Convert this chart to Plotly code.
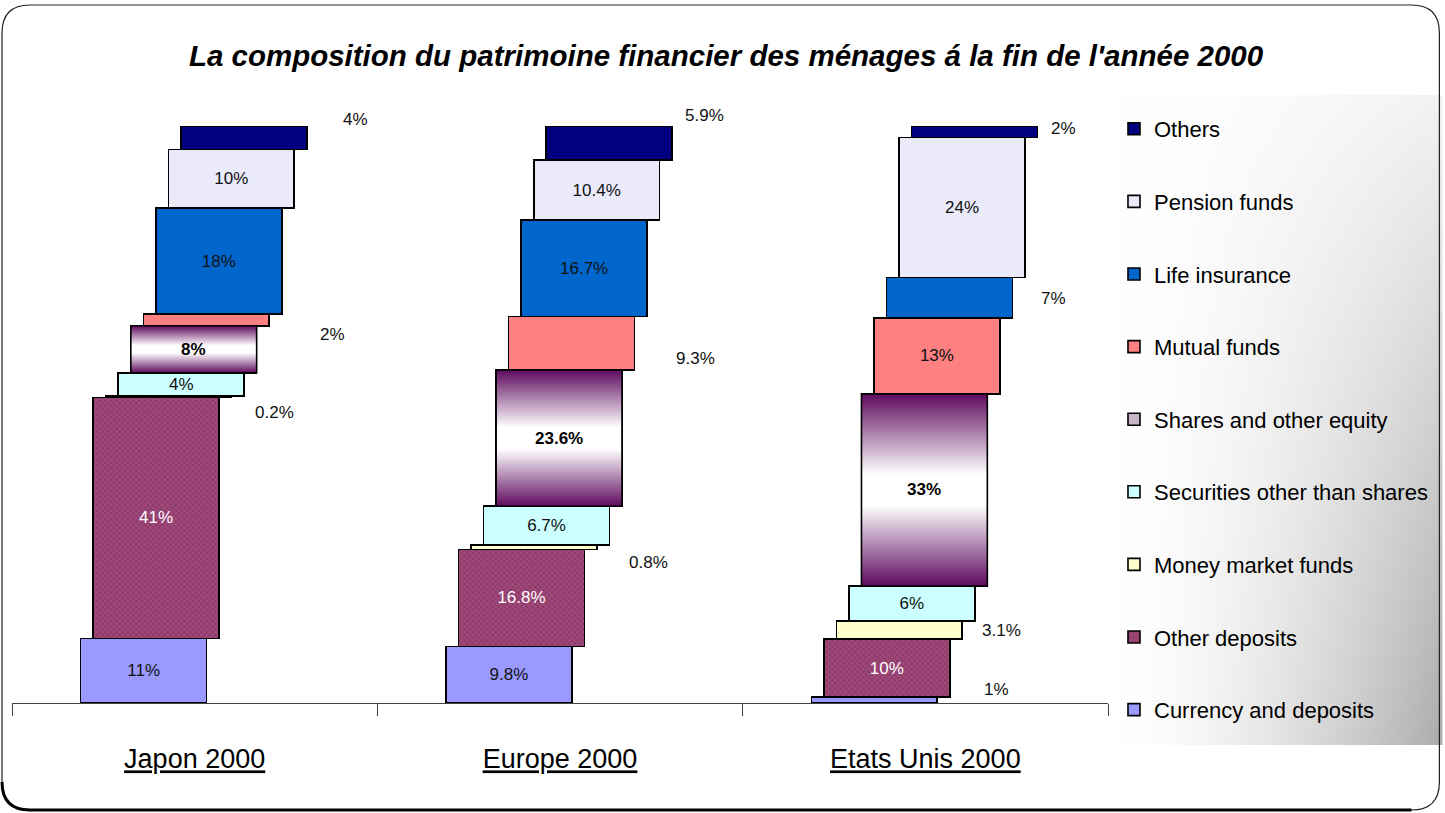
import base64
import struct
import zlib

import numpy as np
import plotly.graph_objects as go

# ---------------- data ----------------
categories = ["Japon 2000", "Europe 2000", "Etats Unis 2000"]
series = ["Currency and deposits", "Other deposits", "Money market funds",
          "Securities other than shares", "Shares and other equity", "Mutual funds",
          "Life insurance", "Pension funds", "Others"]
japon = [11, 41, 0.2, 4, 8, 2, 18, 10, 4]
europe = [9.8, 16.8, 0.8, 6.7, 23.6, 9.3, 16.7, 10.4, 5.9]
etats_unis = [1, 10, 3.1, 6, 33, 13, 7, 24, 2]
title_text = "La composition du patrimoine financier des ménages á la fin de l'année 2000"

# ---------------- styles ----------------
FONT = "Liberation Sans, Arial, sans-serif"
LABEL_SIZE = 17
colors = ["#9999FF", "#A0487A", "#FFFFCC", "#CCFFFF", "#C8B4C8",
          "#FF8080", "#0066CC", "#EAEAFA", "#000080"]
text_colors = ["#111111", "#FFFFFF", "#111111", "#111111", "#111111",
               "#111111", "#111111", "#111111", "#111111"]
BAR_W = 0.3445       # bar width (category units)
OFF0 = -0.312        # offset of the lowest segment
STEP = 0.0343        # horizontal shift per stacked level
SHARES = 4
# labels drawn beside the bars: (country, series) -> (dx px from right edge, dy px down)
outside = {
    (0, 2): (43, 16), (0, 5): (63, 15), (0, 8): (49, -18),
    (1, 2): (52, 15), (1, 5): (61, 15), (1, 8): (32, -28),
    (2, 0): (59, -11), (2, 2): (39, 1), (2, 6): (41, 1), (2, 8): (26, -3),
}

W_PX, H_PX = 1445, 813
M_L, M_R, M_T, M_B = 12, 335, 126, 110
PW = W_PX - M_L - M_R
PH = H_PX - M_T - M_B


def px_x(p):
    return (p - M_L) / PW


def px_y(p):
    return (H_PX - M_B - p) / PH


vals = np.array([japon, europe, etats_unis], dtype=float)
norm = vals / vals.sum(axis=1, keepdims=True) * 100.0
base = np.cumsum(norm, axis=1) - norm

fig = go.Figure()

for i, name in enumerate(series):
    texts = []
    for c in range(len(categories)):
        if (c, i) in outside or i == SHARES:
            texts.append("")
        else:
            texts.append(f"{vals[c, i]:g}%")
    marker = dict(color=colors[i], line=dict(color="#000000", width=1.6))
    if i == 1:
        marker["pattern"] = dict(shape="x", size=4, solidity=0.3,
                                 fgcolor="#5a1c3e", bgcolor=colors[i])
    fig.add_trace(go.Bar(
        x=categories, y=norm[:, i], name=name,
        offset=OFF0 + i * STEP, width=BAR_W,
        marker=marker,
        text=texts, textposition="inside", insidetextanchor="middle",
        textangle=0, constraintext="none",
        textfont=dict(family=FONT, size=LABEL_SIZE, color=text_colors[i]),
        legendgroup=name, legendrank=len(series) - i, hoverinfo="name+y",
    ))

# gradient fill for "Shares and other equity"
for c in range(len(categories)):
    x0 = c + OFF0 + SHARES * STEP
    x1 = x0 + BAR_W
    y0 = base[c, SHARES]
    y1 = y0 + norm[c, SHARES]
    fig.add_trace(go.Scatter(
        x=[x0, x1, x1, x0, x0], y=[y0, y0, y1, y1, y0],
        xaxis="x2", yaxis="y", mode="lines", fill="toself",
        fillgradient=dict(type="vertical",
                          colorscale=[[0, "#5e0a5e"], [0.42, "#ffffff"],
                                      [0.58, "#ffffff"], [1, "#5e0a5e"]]),
        line=dict(color="#000000", width=1.6),
        showlegend=False, hoverinfo="skip",
    ))

annotations = []
for c in range(len(categories)):
    annotations.append(dict(
        x=c + OFF0 + SHARES * STEP + BAR_W / 2, xref="x2",
        y=base[c, SHARES] + norm[c, SHARES] / 2, yref="y",
        text=f"<b>{vals[c, SHARES]:g}%</b>", showarrow=False,
        font=dict(family=FONT, size=LABEL_SIZE, color="#000000")))
for (c, i), (dx, dy) in outside.items():
    annotations.append(dict(
        x=c + OFF0 + i * STEP + BAR_W, xref="x2",
        y=base[c, i] + norm[c, i] / 2, yref="y",
        xshift=dx, yshift=-dy, text=f"{vals[c, i]:g}%", showarrow=False,
        font=dict(family=FONT, size=LABEL_SIZE, color="#111111")))


# ---------- legend background gradient (inline PNG) ----------
def gradient_png(w, h):
    rows = bytearray()
    for yy in range(h):
        v = yy / (h - 1)
        rows.append(0)
        for xx in range(w):
            u = xx / (w - 1)
            d = 82 * (u ** 1.6) * (0.15 + 0.85 * v)
            g = int(max(0, min(255, 255 - d)))
            rows += bytes((g, g, g))

    def chunk(tag, data):
        out = struct.pack(">I", len(data)) + tag + data
        return out + struct.pack(">I", zlib.crc32(tag + data) & 0xFFFFFFFF)
    raw = b"\x89PNG\r\n\x1a\n"
    raw += chunk(b"IHDR", struct.pack(">IIBBBBB", w, h, 8, 2, 0, 0, 0))
    raw += chunk(b"IDAT", zlib.compress(bytes(rows), 9))
    raw += chunk(b"IEND", b"")
    return "data:image/png;base64," + base64.b64encode(raw).decode()


images = [dict(source=gradient_png(110, 216), xref="paper", yref="paper",
               x=px_x(1115), y=px_y(95), sizex=330 / PW, sizey=650 / PH,
               xanchor="left", yanchor="top", sizing="stretch", layer="below")]

# ---------- rounded outer frame ----------
r = 28
L, T, R, B = px_x(2), px_y(5), px_x(1442), px_y(810)
rx, ry = r / PW, r / PH
frame = (f"M{L + rx},{T} L{R - rx},{T} Q{R},{T} {R},{T - ry} L{R},{B + ry} "
         f"Q{R},{B} {R - rx},{B} L{L + rx},{B} Q{L},{B} {L},{B + ry} "
         f"L{L},{T - ry} Q{L},{T} {L + rx},{T} Z")
bottom = f"M{L},{B + ry} Q{L},{B} {L + rx},{B} L{R - rx},{B}"
shapes = [
    dict(type="path", path=frame, xref="paper", yref="paper",
         line=dict(color="#222222", width=1.2), layer="above"),
    dict(type="path", path=bottom, xref="paper", yref="paper",
         line=dict(color="#000000", width=3), layer="above"),
]

fig.update_layout(
    width=W_PX, height=H_PX,
    margin=dict(l=M_L, r=M_R, t=M_T, b=M_B),
    paper_bgcolor="#FFFFFF", plot_bgcolor="rgba(0,0,0,0)",
    barmode="stack",
    title=dict(text=f"<b><i>{title_text}</i></b>", xref="container", x=726 / W_PX,
               xanchor="center", yref="container", y=1 - 56 / H_PX, yanchor="middle",
               font=dict(family=FONT, size=29.5, color="#000000")),
    xaxis=dict(type="category", range=[-0.5, 2.5], showline=True,
               linecolor="#444444", linewidth=1, ticks="outside", tickson="boundaries",
               ticklen=12, tickcolor="#444444", showgrid=False, zeroline=False,
               tickfont=dict(family=FONT, size=27, color="#000000", lineposition="under"),
               ticklabelstandoff=32, fixedrange=True),
    xaxis2=dict(overlaying="x", range=[-0.5, 2.5], visible=False, fixedrange=True),
    yaxis=dict(range=[0, 100], visible=False, fixedrange=True),
    legend=dict(x=px_x(1116), y=px_y(108), xanchor="left", yanchor="top",
                traceorder="grouped", tracegroupgap=41, maxheight=790,
                bgcolor="rgba(0,0,0,0)", borderwidth=0,
                font=dict(family=FONT, size=22, color="#000000")),
    annotations=annotations,
    images=images,
    shapes=shapes,
    showlegend=True,
)

fig.write_html("out.html", config={"displayModeBar": False},
               post_script="document.body.style.margin='0';")
